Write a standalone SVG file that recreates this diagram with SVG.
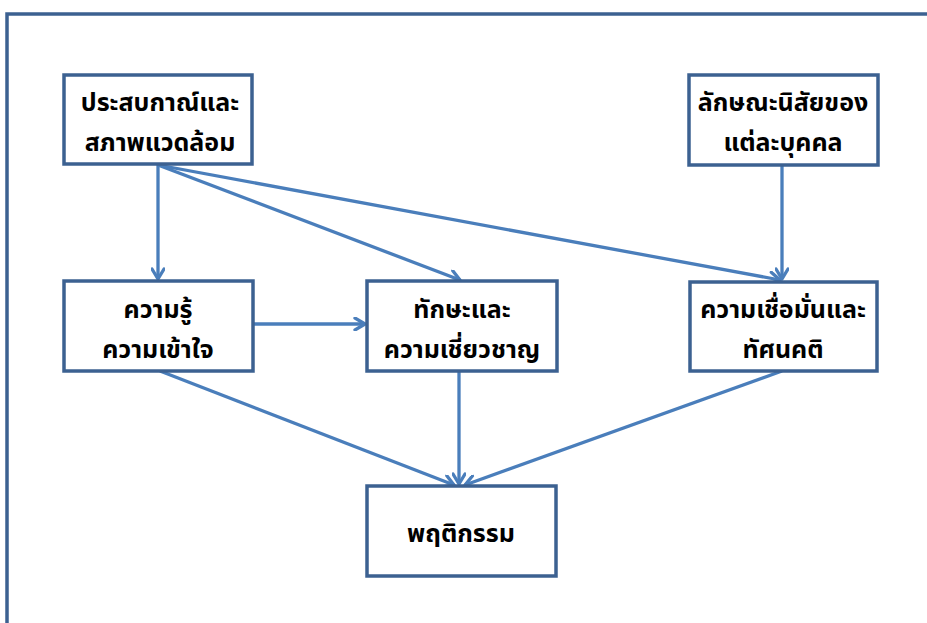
<svg xmlns="http://www.w3.org/2000/svg" width="927" height="623" viewBox="0 0 927 623">
<style>
.box{fill:#fff;stroke:#3c6191;stroke-width:3.5}
.lbl{font-family:"Noto Sans Thai","Tahoma","DejaVu Sans","Noto Sans",sans-serif;font-weight:bold;font-size:25px;fill:#000;text-anchor:middle}
.con{fill:none;stroke:#4a7ebb;stroke-width:3.3;marker-end:url(#ah)}
</style>
<defs>
<marker id="ah" viewBox="0 0 14 14" refX="12" refY="7" markerWidth="14" markerHeight="14" markerUnits="userSpaceOnUse" orient="auto">
<path d="M2,1 L12,7 L2,13" fill="none" stroke="#4a7ebb" stroke-width="3.3" stroke-linecap="round" stroke-linejoin="round"/>
</marker>
</defs>
<rect x="7" y="14" width="940" height="640" fill="#fff" stroke="#3c6191" stroke-width="3.5"/>
<g id="connectors">
<line class="con" x1="158" y1="165" x2="158" y2="279"/>
<line class="con" x1="158" y1="165" x2="460" y2="280"/>
<line class="con" x1="158" y1="165" x2="780" y2="280"/>
<line class="con" x1="782" y1="166" x2="782" y2="279"/>
<line class="con" x1="253" y1="324" x2="365" y2="324"/>
<line class="con" x1="160" y1="371" x2="454" y2="485"/>
<line class="con" x1="459" y1="371" x2="459" y2="484"/>
<line class="con" x1="782" y1="371" x2="465" y2="485"/>
</g>
<g id="n1"><rect class="box" x="64" y="75" width="188" height="89"/><text class="lbl" x="160" y="111">ประสบกาณ์และ</text><text class="lbl" x="160" y="151">สภาพแวดล้อม</text></g>
<g id="n2"><rect class="box" x="689" y="75" width="189" height="90"/><text class="lbl" x="783" y="111">ลักษณะนิสัยของ</text><text class="lbl" x="783" y="151">แต่ละบุคคล</text></g>
<g id="n3"><rect class="box" x="64" y="281" width="189" height="90"/><text class="lbl" x="158" y="318">ความรู้</text><text class="lbl" x="158" y="358">ความเข้าใจ</text></g>
<g id="n4"><rect class="box" x="367" y="281" width="190" height="90"/><text class="lbl" x="462" y="318">ทักษะและ</text><text class="lbl" x="462" y="358">ความเชี่ยวชาญ</text></g>
<g id="n5"><rect class="box" x="690" y="282" width="187" height="89"/><text class="lbl" x="783" y="318">ความเชื่อมั่นและ</text><text class="lbl" x="783" y="358">ทัศนคติ</text></g>
<g id="n6"><rect class="box" x="367" y="486" width="189" height="90"/><text class="lbl" x="461" y="542">พฤติกรรม</text></g>
</svg>
